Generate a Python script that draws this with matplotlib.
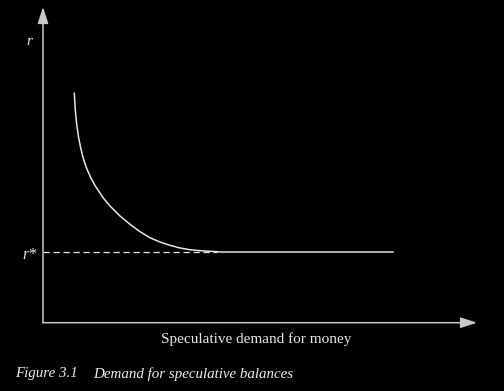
import matplotlib
matplotlib.use("Agg")
from matplotlib import pyplot as plt

# speculative demand curve (x = money demand, y = r)
demand = [7.21, 7.44, 7.76, 8.18, 8.69, 9.29, 10.07, 10.99, 11.98, 13.89,
          15.44, 17.74, 20.05, 22.35, 24.65, 26.96, 29.26, 31.57, 33.87,
          36.18, 38.48, 41.24, 80.65]
rate = [72.66, 67.37, 62.94, 58.82, 55.34, 52.01, 48.84, 45.99, 43.46, 39.50,
        36.97, 33.80, 31.17, 28.83, 26.92, 25.56, 24.51, 23.66, 23.12,
        22.81, 22.62, 22.39, 22.39]
r_star = 22.39
r_star_end = 40.0

x_label = "Speculative demand for money"
y_label = "r"
r_star_label = "r*"
caption_num = "Figure 3.1"
caption_text = "Demand for speculative balances"

W, H = 504, 391
fig = plt.figure(figsize=(W / 100, H / 100), dpi=100, facecolor="black")

x0, y0, x1, y1 = 43, 322.7, 477, 7
ax = fig.add_axes([x0 / W, 1 - y0 / H, (x1 - x0) / W, (y0 - y1) / H])
ax.set_facecolor("black")
ax.set_xlim(0, 100)
ax.set_ylim(0, 100)
ax.set_axis_off()

axis_col = "#c8c8c8"
line_col = "#e6e6e6"
serif = "Liberation Serif"

# axes with arrow heads
arrow = dict(arrowstyle="-|>,head_length=0.4,head_width=0.13", mutation_scale=25,
             color=axis_col, lw=1.1, shrinkA=0, shrinkB=0)
ax.annotate("", xy=(0, 1), xytext=(0, 0), xycoords="axes fraction", arrowprops=arrow)
ax.annotate("", xy=(1, 0), xytext=(0, 0), xycoords="axes fraction", arrowprops=arrow)

ax.plot(demand, rate, color=line_col, lw=1.1, solid_joinstyle="round")
ax.hlines(r_star, 0, r_star_end, color=line_col, lw=0.9, linestyles=(0, (5, 3)))

ax.text(-2.5, 89, y_label, color=line_col, fontsize=11, fontstyle="italic",
        family=serif, ha="right", va="center")
ax.text(-1.5, r_star - 0.8, r_star_label, color=line_col, fontsize=11.5, fontstyle="italic",
        family=serif, ha="right", va="center")

fig.text(256 / W, 1 - 339 / H, x_label, color=line_col, fontsize=11, family=serif,
         ha="center", va="center")
fig.text(15 / W, 1 - 374 / H, caption_num, color="#ececf4", fontsize=10.8,
         fontstyle="italic", family=serif, ha="left", va="center")
fig.text(93 / W, 1 - 374 / H, caption_text, color="#ececf4", fontsize=10.8,
         fontstyle="italic", family=serif, ha="left", va="center")

fig.savefig("out.png", dpi=100, facecolor="black")
